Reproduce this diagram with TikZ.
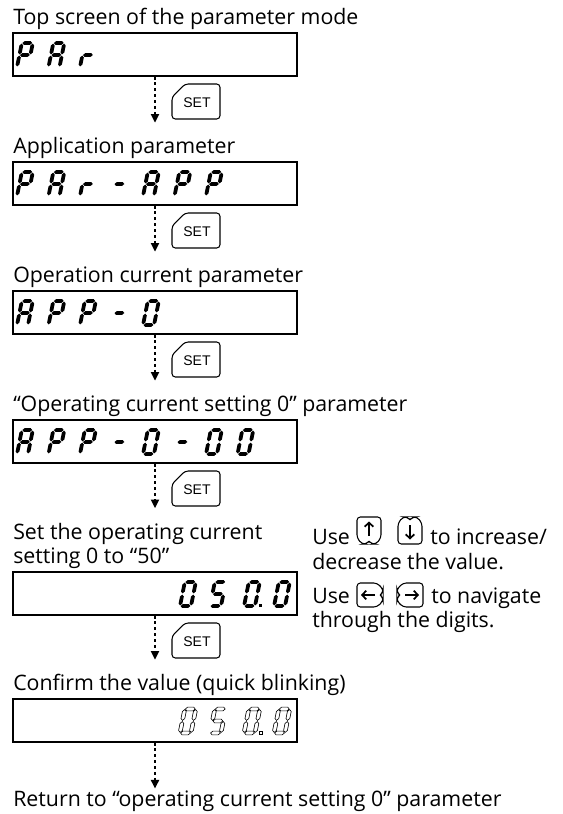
\documentclass[tikz,border=0pt]{standalone}
\usepackage{fontspec}
\setmainfont{Open Sans}
\newfontfamily\keyfont{Liberation Sans}
\usetikzlibrary{positioning,arrows.meta}

% seven segment display, px units, y grows downwards
\newcommand\hseg[3]{\path[segcur] (#1+0.6,#3) -- (#1+2.5,#3-1.9) -- (#2-2.5,#3-1.9) -- (#2-0.6,#3) -- (#2-2.5,#3+1.9) -- (#1+2.5,#3+1.9) -- cycle;}
\newcommand\vseg[3]{\path[segcur] (#1,#2-0.6) -- (#1-1.9,#2-2.5) -- (#1-1.9,#3+2.5) -- (#1,#3+0.6) -- (#1+1.9,#3+2.5) -- (#1+1.9,#2-2.5) -- cycle;}
\newcommand\segA{\hseg{0}{11}{-24}}
\newcommand\segB{\vseg{11}{-12}{-24}}
\newcommand\segC{\vseg{11}{0}{-12}}
\newcommand\segD{\hseg{0}{11}{0}}
\newcommand\segE{\vseg{0}{0}{-12}}
\newcommand\segF{\vseg{0}{-12}{-24}}
\newcommand\segG{\hseg{0}{11}{-12}}
\newcommand\segdigit[3]{\begin{scope}[shift={(#1,#2)},xslant=0.2]
  \edef\segdlist{#3}\foreach \sg in \segdlist {\csname seg\sg\endcsname}\end{scope}}
\newcommand\segdot[2]{\path[segcur] (#1,#2) rectangle ++(3,-3);}
\newcommand\glP{A,B,F,G,E}
\newcommand\glA{A,B,C,E,F,G}
\newcommand\glr{E,G}
\newcommand\gldash{G}
\newcommand\glzero{A,B,C,D,E,F}
\newcommand\glfive{A,F,G,C,D}

\tikzset{
  pics/setkey/.style={code={
    \draw[keyline] (0,35) -- (0,13) -- (13,0) -- (48,0) -- (48,35) -- cycle;
    \node[keytxt] (-lbl) at (25,18.5) {SET};
  }},
  pics/upkey/.style={code={
    \draw[keyline] (0,21) -- (0,0) -- (24,0) -- (24,21) -- (19,27) -- (14.5,27) .. controls (13,25.3) and (11,25.3) .. (9.5,27) -- (5,27) -- cycle;
    \draw[keyarr] (12,19) -- (12,4.5);
  }},
  pics/downkey/.style={code={
    \draw[keyline] (0,6) -- (5,0) -- (9.5,0) .. controls (11,1.7) and (13,1.7) .. (14.5,0) -- (19,0) -- (24,6) -- (24,27) -- (0,27) -- cycle;
    \draw[keyarr] (12,8) -- (12,22.5);
  }},
  pics/leftkey/.style={code={
    \draw[keyline] (0,0) -- (20,0) -- (26,6) -- (26,9.5) .. controls (24.3,11) and (24.3,13) .. (26,14.5) -- (26,18) -- (20,24) -- (0,24) -- cycle;
    \draw[keyarr] (18,12) -- (4,12);
  }},
  pics/rightkey/.style={code={
    \draw[keyline] (26,0) -- (6,0) -- (0,6) -- (0,9.5) .. controls (1.7,11) and (1.7,13) .. (0,14.5) -- (0,18) -- (6,24) -- (26,24) -- cycle;
    \draw[keyarr] (8,12) -- (22,12);
  }},
}

\begin{document}
\begin{tikzpicture}[x=0.75pt,y=-0.75pt,
  lbl/.style={inner sep=0,anchor=base west,font=\fontsize{16}{18}\selectfont,text height=11.4pt},
  disp/.style={draw,line width=0.9pt,minimum width=213pt,minimum height=32.25pt,inner sep=0},
  flow/.style={line width=1.8pt,dash pattern=on 2.2pt off 2.2pt,-{Triangle[length=6.5pt,width=6pt]},shorten >=11.5pt},
  keyline/.style={line width=0.8pt,rounded corners=2.5pt},
  keyarr/.style={line width=1.3pt,-{Straight Barb[length=3pt,width=6.5pt,line width=1.3pt]}},
  keytxt/.style={font=\keyfont\fontsize{10.5}{11}\selectfont,inner sep=0},
  segon/.style={fill=black},
  segout/.style={draw,line width=0.45pt,fill=white},
  segcur/.style={segon}]
\useasboundingbox (0,0) rectangle (563,814);

% titles
\node[lbl] (lbl1) at (13,24.5) {Top screen of the parameter mode};
\node[lbl] (lbl2) at (13,153.5) {Application parameter};
\node[lbl] (lbl3) at (13,282.5) {Operation current parameter};
\node[lbl] (lbl4) at (13,411.5) {“Operating current setting 0” parameter};
\node[lbl] (lbl5) at (13,539) {Set the operating current};
\node[lbl] (lbl5b) at (13,563) {setting 0 to “50”};
\node[lbl] (lbl6) at (13,690.5) {Confirm the value (quick blinking)};
\node[lbl] (lbl7) at (13,806) {Return to “operating current setting 0” parameter};

% displays
\node[disp] (disp1) at (155,54.5) {};
\node[disp] (disp2) at (155,183.5) {};
\node[disp] (disp3) at (155,312.5) {};
\node[disp] (disp4) at (155,441.5) {};
\node[disp] (disp5) at (155,593.5) {};
\node[disp] (disp6) at (155,720.5) {};

\foreach \g [count=\i from 0] in {\glP,\glA,\glr}
  {\segdigit{17+31.5*\i}{67}{\g}}
\foreach \g [count=\i from 0] in {\glP,\glA,\glr,\gldash,\glA,\glP,\glP}
  {\segdigit{17+31.5*\i}{196}{\g}}
\foreach \g [count=\i from 0] in {\glA,\glP,\glP,\gldash,\glzero}
  {\segdigit{17+31.5*\i}{325}{\g}}
\foreach \g [count=\i from 0] in {\glA,\glP,\glP,\gldash,\glzero,\gldash,\glzero,\glzero}
  {\segdigit{17+31.5*\i}{454}{\g}}
\foreach \g/\x in {\glzero/180,\glfive/210,\glzero/244,\glzero/274}
  {\segdigit{\x}{606}{\g}}
\segdot{259}{607}
\begin{scope}
\tikzset{segcur/.style={segout}}
\foreach \g/\x in {\glzero/180,\glfive/210,\glzero/244,\glzero/274}
  {\segdigit{\x}{733}{\g}}
\segdot{259}{734}
\end{scope}

% SET keys
\pic (set1) at (172,84) {setkey};
\pic (set2) at (172,213) {setkey};
\pic (set3) at (172,342) {setkey};
\pic (set4) at (172,471) {setkey};
\pic (set5) at (172,623) {setkey};

% flow
\draw[flow] (disp1) -- (disp1.south |- lbl2.north);
\draw[flow] (disp2) -- (disp2.south |- lbl3.north);
\draw[flow] (disp3) -- (disp3.south |- lbl4.north);
\draw[flow] (disp4) -- (disp4.south |- lbl5.north);
\draw[flow] (disp5) -- (disp5.south |- lbl6.north);
\draw[flow,shorten >=1.5pt] (disp6) -- (disp6.south |- lbl7.north);

% hints
\node[lbl] (use1) at (312,544) {Use};
\pic (up) at (357,517) {upkey};
\pic (down) at (398,517) {downkey};
\node[lbl] (inc) at (430,544) {to increase/};
\node[lbl] (dec) at (312,569) {decrease the value.};
\node[lbl] (use2) at (312,603) {Use};
\pic (left) at (357,583) {leftkey};
\pic (right) at (397,583) {rightkey};
\node[lbl] (nav) at (431,603) {to navigate};
\node[lbl] (thr) at (312,627) {through the digits.};
\end{tikzpicture}
\end{document}
